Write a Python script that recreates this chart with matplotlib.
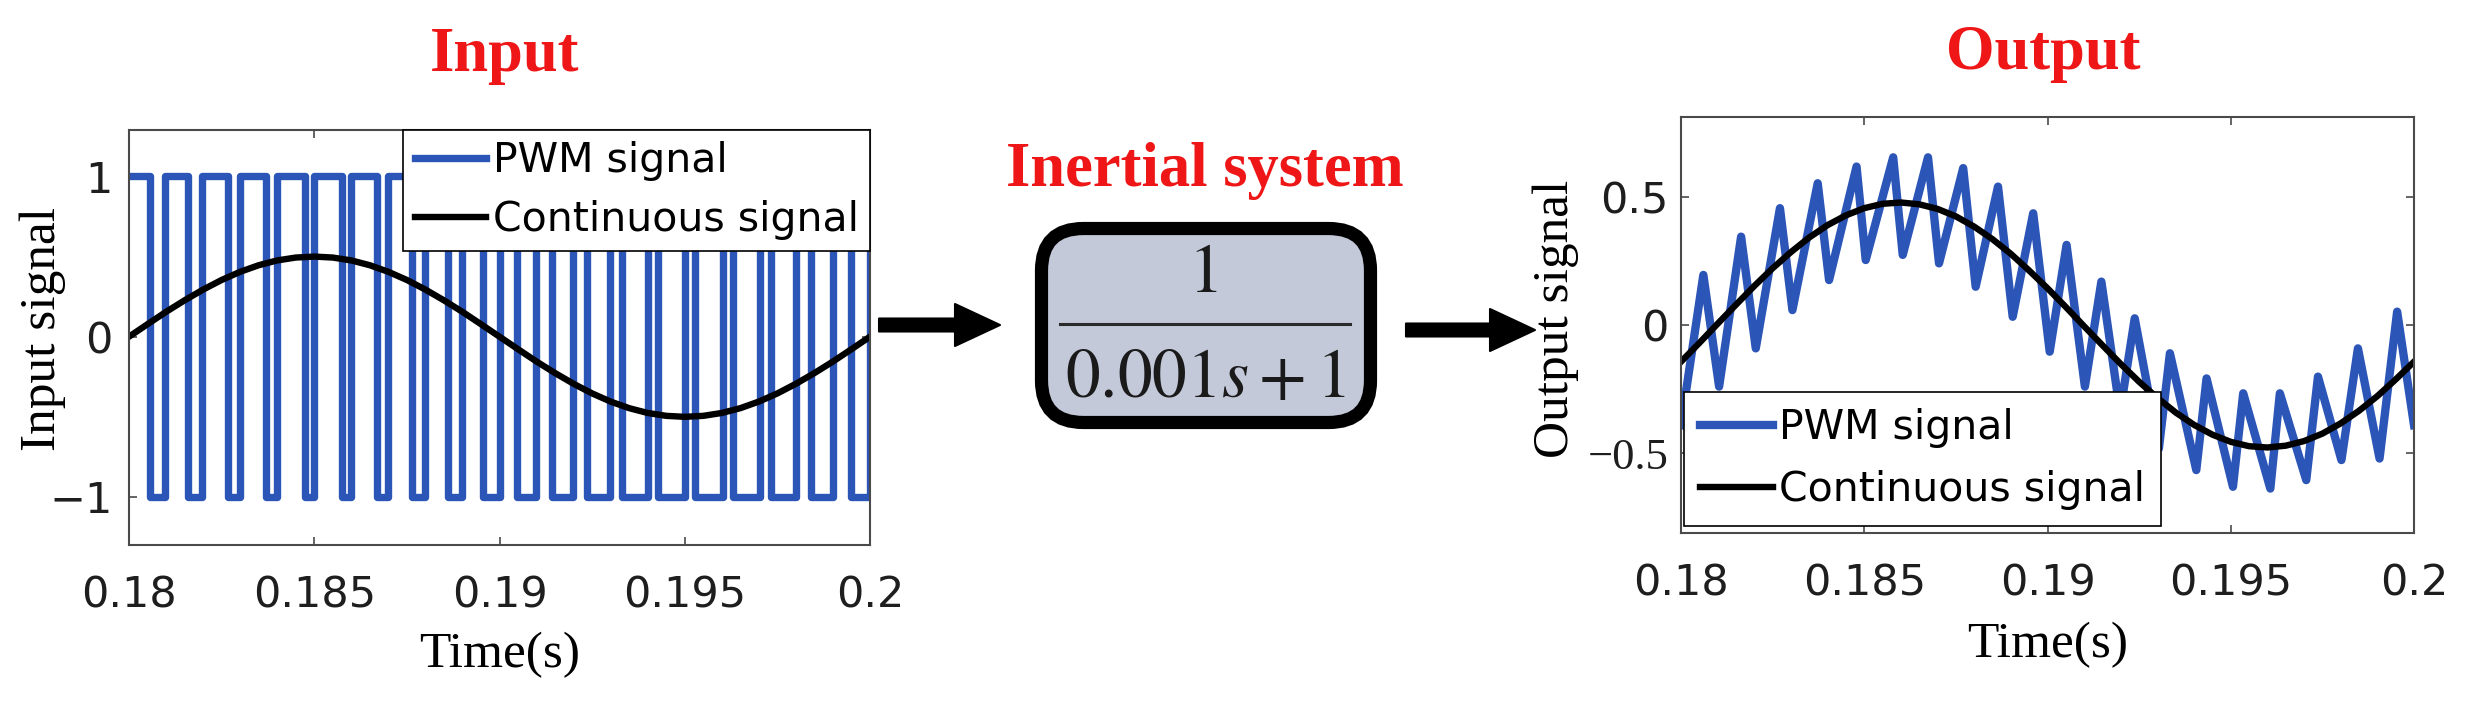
import numpy as np
import matplotlib
matplotlib.use("Agg")
from matplotlib import pyplot as plt
from matplotlib.patches import FancyBboxPatch, FancyArrow

plt.rcParams['mathtext.fontset'] = 'stix'

# ---- data (time in ms after t = 0.18 s) ----
t0 = 0.18
x_ticks = [0.18, 0.185, 0.19, 0.195, 0.2]
x_tick_labels = ["0.18", "0.185", "0.19", "0.195", "0.2"]

# input PWM: low pulses (falling edge, rising edge), signal is +1 elsewhere
pwm_fall_ms = [0.56, 1.60, 2.66, 3.70, 4.75, 5.74, 6.70, 7.65, 8.60, 9.55,
               10.48, 11.42, 12.36, 13.30, 14.28, 15.28, 16.30, 17.34, 18.42, 19.48]
pwm_rise_ms = [0.97, 1.98, 3.00, 4.00, 5.00, 6.00, 6.98, 7.99, 9.00, 10.00,
               10.98, 11.98, 12.99, 14.00, 15.00, 16.02, 17.02, 18.00, 19.00, 20.00]

# continuous signals sampled every 0.5 ms
cont_t_ms = [i * 0.5 for i in range(41)]
cont_in = [0.000, 0.078, 0.155, 0.227, 0.294, 0.354, 0.405, 0.446, 0.476, 0.494,
           0.500, 0.494, 0.476, 0.446, 0.405, 0.354, 0.294, 0.227, 0.155, 0.078,
           0.000, -0.078, -0.155, -0.227, -0.294, -0.354, -0.405, -0.446, -0.476, -0.494,
           -0.500, -0.494, -0.476, -0.446, -0.405, -0.354, -0.294, -0.227, -0.155, -0.078,
           0.000]
cont_out = [-0.143, -0.070, 0.005, 0.079, 0.152, 0.221, 0.284, 0.341, 0.389, 0.427,
            0.455, 0.472, 0.477, 0.470, 0.452, 0.423, 0.383, 0.334, 0.277, 0.212,
            0.143, 0.070, -0.005, -0.079, -0.152, -0.221, -0.284, -0.341, -0.389, -0.427,
            -0.455, -0.472, -0.477, -0.470, -0.452, -0.423, -0.383, -0.334, -0.277, -0.212,
            -0.143]

# output PWM response: peaks and troughs
out_t_ms = [0.00, 0.61, 1.04, 1.64, 2.04, 2.70, 3.04, 3.73, 4.04, 4.79, 5.04, 5.79,
            6.05, 6.74, 7.04, 7.70, 8.04, 8.65, 9.05, 9.61, 10.06, 10.52, 11.02, 11.47,
            11.98, 12.38, 13.04, 13.34, 14.06, 14.34, 15.06, 15.34, 16.08, 16.34, 17.06,
            17.38, 18.02, 18.47, 19.06, 19.54, 20.00]
out_y = [-0.39, 0.195, -0.24, 0.344, -0.091, 0.455, 0.058, 0.552, 0.175, 0.617, 0.253, 0.653,
         0.273, 0.653, 0.240, 0.611, 0.149, 0.539, 0.032, 0.435, -0.104, 0.312, -0.240, 0.169,
         -0.34, 0.026, -0.481, -0.110, -0.565, -0.208, -0.630, -0.266, -0.637, -0.266, -0.604,
         -0.201, -0.526, -0.091, -0.520, 0.052, -0.39]

W, H = 2473, 702
blue = '#2c55b8'
red = '#ee1616'
serif = 'Liberation Serif'
sans = 'DejaVu Sans'

fig = plt.figure(figsize=(W / 100, H / 100), dpi=100)


def style_axes(ax, ypad):
    for s in ax.spines.values():
        s.set_color('#4a4a4a')
        s.set_linewidth(1.5)
    ax.tick_params(direction='in', top=True, right=True, length=6, width=1.2,
                   color='#4a4a4a', labelsize=31, labelcolor='#1e1e1e')
    ax.tick_params(axis='x', pad=21)
    ax.tick_params(axis='y', pad=ypad)
    ax.set_xlim(0.18, 0.2)
    ax.set_xticks(x_ticks)
    ax.set_xticklabels(x_tick_labels, family=sans)


# ---- left: input ----
ax1 = fig.add_axes([129 / W, 1 - 545 / H, 741 / W, 415 / H])
pt, py = [0.0], [1.0]
for f, r in zip(pwm_fall_ms, pwm_rise_ms):
    pt += [f, f, r, r]
    py += [1, -1, -1, 1]
pt.append(20.0)
py.append(1.0)
ax1.plot(t0 + np.array(pt) / 1000, py, color=blue, lw=5.3, label='PWM signal')
ax1.plot(t0 + np.array(cont_t_ms) / 1000, cont_in, color='k', lw=4.6,
         label='Continuous signal')
ax1.set_ylim(-1.3, 1.29)
style_axes(ax1, 12)
ax1.set_yticks([-1, 0, 1])
ax1.set_yticklabels(['\u22121', '0', '1'], family=sans)
ax1.set_xlabel('Time(s)', family=serif, fontsize=37)
ax1.xaxis.label.set_va('center')
ax1.xaxis.set_label_coords(0.5, (545 - 655) / 415)
ax1.set_ylabel('Input signal', family=serif, fontsize=37)
ax1.yaxis.label.set_va('center')
ax1.yaxis.set_label_coords((43 - 129) / 741, (545 - 329) / 415)
leg1 = ax1.legend(loc='upper right', bbox_to_anchor=(1, 1), borderaxespad=0,
                  prop={'family': sans, 'size': 29.5}, fancybox=False, framealpha=1,
                  edgecolor='k', handlelength=1.75, handletextpad=0.15,
                  labelspacing=0.45, borderpad=0.28)
leg1.get_frame().set_linewidth(1.2)

# ---- right: output ----
ax2 = fig.add_axes([1681 / W, 1 - 533 / H, 733 / W, 416 / H])
ax2.plot(t0 + np.array(out_t_ms) / 1000, out_y, color=blue, lw=6.0, label='PWM signal')
ax2.plot(t0 + np.array(cont_t_ms) / 1000, cont_out, color='k', lw=4.6,
         label='Continuous signal')
ax2.set_ylim(-0.81, 0.81)
style_axes(ax2, 9)
ax2.set_yticks([-0.5, 0, 0.5])
ax2.set_yticklabels(['\u22120.5', '0', '0.5'], family=sans)
ax2.get_yticklabels()[0].set_family(serif)
ax2.get_yticklabels()[0].set_fontsize(32)
ax2.set_xlabel('Time(s)', family=serif, fontsize=37)
ax2.xaxis.label.set_va('center')
ax2.xaxis.set_label_coords(0.5, (533 - 645) / 416)
ax2.set_ylabel('Output signal', family=serif, fontsize=37)
ax2.yaxis.label.set_va('center')
ax2.yaxis.set_label_coords((1556 - 1681) / 733, (533 - 319) / 416)
leg2 = ax2.legend(loc='lower left', bbox_to_anchor=((1684 - 1681) / 733, (533 - 526) / 416),
                  borderaxespad=0, prop={'family': sans, 'size': 29.5}, fancybox=False,
                  framealpha=1, edgecolor='k', handlelength=1.8, handletextpad=0.15,
                  labelspacing=0.55, borderpad=0.38)
leg2.get_frame().set_linewidth(1.2)

# ---- overlay in pixel coordinates: titles, arrows, block ----
ov = fig.add_axes([0, 0, 1, 1], zorder=5)
ov.set_xlim(0, W)
ov.set_ylim(H, 0)
ov.axis('off')
ov.patch.set_visible(False)

ov.text(505, 71, 'Input', color=red, fontsize=45, fontweight='bold', family=serif,
        ha='center', va='baseline')
ov.text(2043, 69, 'Output', color=red, fontsize=45, fontweight='bold', family=serif,
        ha='center', va='baseline')
ov.text(1205, 186, 'Inertial system', color=red, fontsize=45, fontweight='bold',
        family=serif, ha='center', va='baseline')

box = FancyBboxPatch((1035 + 6.5, 223 + 5.5), 342 - 13, 205 - 11,
                     boxstyle='round,pad=0,rounding_size=42',
                     facecolor='#c4c9d9', edgecolor='k', linewidth=9.5)
ov.add_patch(box)
ov.plot([1060, 1350], [324, 324], color='#2a2a2a', lw=2.2)
ov.text(1203, 272, r'$1$', fontsize=50, ha='center', va='center', color='#1a1a1a')
ov.text(1205, 377, r'$0.001s+1$', fontsize=50, ha='center', va='center', color='#1a1a1a')

for xs, xe, yy in [(879, 1000, 325), (1406, 1535, 330)]:
    ov.add_patch(FancyArrow(xs, yy, xe - xs, 0, width=13, head_width=42, head_length=45,
                            length_includes_head=True, color='k', lw=1.5,
                            joinstyle='round', capstyle='round'))

fig.savefig('out.png', dpi=100, facecolor='white')
